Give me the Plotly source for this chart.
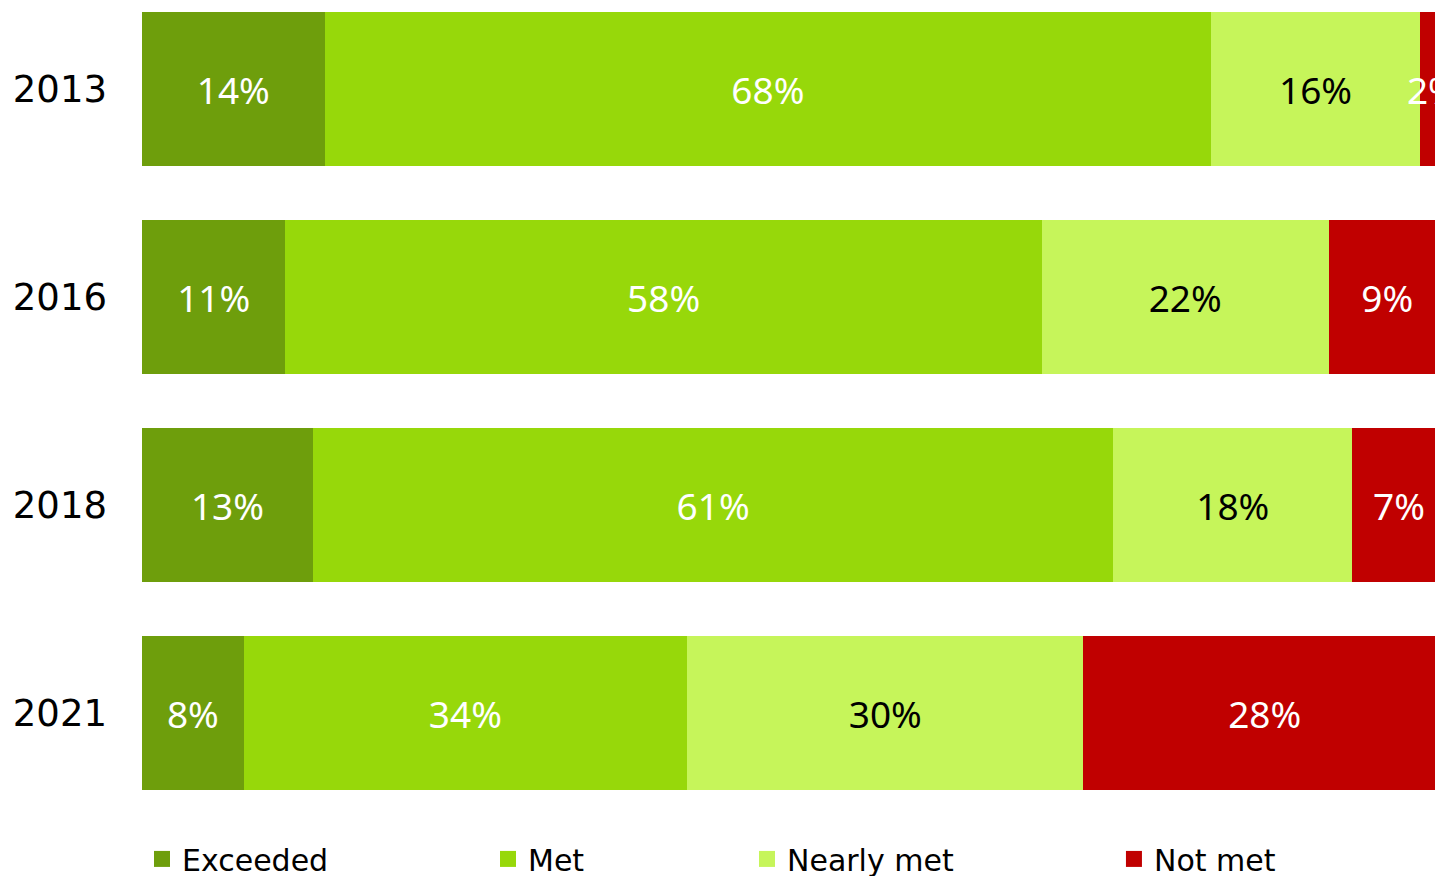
import plotly.graph_objects as go

years = ["2013", "2016", "2018", "2021"]
exceeded = [14.0, 11.0, 13.1, 7.8]
met = [68.0, 58.0, 61.4, 34.0]
nearly_met = [16.0, 22.0, 18.3, 30.4]
not_met = [2.0, 9.0, 7.2, 27.8]

series = [
    ("Exceeded", exceeded, "#6E9E0C", "white", "legend", 0.0),
    ("Met", met, "#97D80A", "white", "legend2", 0.2676),
    ("Nearly met", nearly_met, "#C6F55A", "black", "legend3", 0.4679),
    ("Not met", not_met, "#C00000", "white", "legend4", 0.7517),
]

fig = go.Figure()
for name, vals, color, tcolor, leg, lx in series:
    fig.add_trace(go.Bar(
        y=years, x=vals, name=name, orientation="h",
        marker=dict(color=color, line=dict(width=0)),
        texttemplate="%{x:.0f}%", textposition="inside",
        insidetextanchor="middle", textangle=0, constraintext="none",
        insidetextfont=dict(family="Noto Sans", size=37, color=tcolor),
        showlegend=False, hoverinfo="skip", cliponaxis=True,
    ))
    fig.add_trace(go.Scatter(
        x=[None], y=[None], mode="markers", name=name,
        marker=dict(symbol="square", size=18, color=color),
        legend=leg, showlegend=True, hoverinfo="skip",
    ))

legend_common = dict(orientation="h", yref="container", yanchor="middle", y=0.0195,
                     xanchor="left",
                     font=dict(family="DejaVu Sans", size=30, color="black"),
                     bgcolor="rgba(0,0,0,0)", borderwidth=0, itemsizing="trace")
layout_legends = {}
for name, vals, color, tcolor, leg, lx in series:
    layout_legends[leg] = dict(legend_common, x=lx)

fig.update_layout(
    barmode="stack",
    bargap=0.26,
    width=1435, height=876,
    margin=dict(l=142, r=0, t=0, b=56, pad=0, autoexpand=False),
    plot_bgcolor="white", paper_bgcolor="white",
    xaxis=dict(range=[0, 99.16], visible=False, fixedrange=True),
    yaxis=dict(type="category", categoryorder="array", categoryarray=years,
               range=[3.514, -0.428], showgrid=False, zeroline=False,
               showline=False, ticks="", ticklabelstandoff=34,
               tickfont=dict(family="DejaVu Sans", size=37, color="black")),
    **layout_legends,
)

fig.write_html("out.html")
